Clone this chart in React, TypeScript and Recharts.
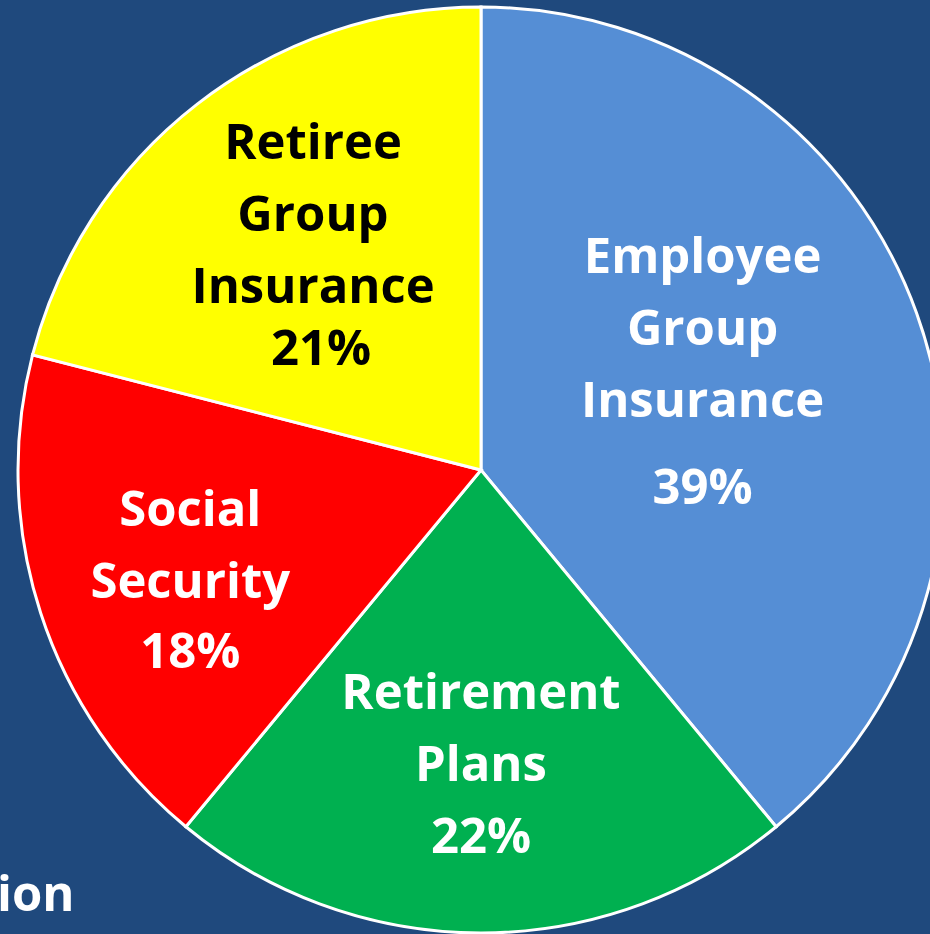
import { PieChart, Pie, Cell } from "recharts";

const categories = [
  "Employee Group Insurance",
  "Retirement Plans",
  "Social Security",
  "Retiree Group Insurance",
];
const shares = [39, 22, 18, 21];
const sliceColors = ["#558ED5", "#00B050", "#FF0000", "#FFFF00"];
const labelColors = ["#FFFFFF", "#FFFFFF", "#FFFFFF", "#000000"];

const data = categories.map((name, i) => ({ name, value: shares[i] }));

const RADIAN = Math.PI / 180;
const FONT = "'Open Sans', 'Liberation Sans', sans-serif";

// label placement tweaks per slice (radius as fraction of outer radius, angle nudge in degrees)
const labelRadius = [0.525, 0.63, 0.67, 0.61];
const angleNudge = [4.5, 0, 2.4, -1.3];
const percentGap = [87, 72, 70, 62];
const LINE = 72;

function SliceLabel(props: any) {
  const { cx, cy, midAngle, outerRadius, index } = props;
  const r = outerRadius * labelRadius[index];
  const a = (midAngle + angleNudge[index]) * RADIAN;
  const x = cx + r * Math.cos(a);
  const y = cy - r * Math.sin(a);
  const words = categories[index].split(" ");
  const offsets = words.map((_, i) => i * LINE);
  const pctOffset = offsets[offsets.length - 1] + percentGap[index];
  const mid = pctOffset / 2;
  return (
    <text
      x={x}
      y={y}
      fill={labelColors[index]}
      textAnchor="middle"
      dominantBaseline="central"
      fontFamily={FONT}
      fontWeight={700}
      fontSize={49}
    >
      {words.map((w, i) => (
        <tspan key={i} x={x} y={y - mid + offsets[i]}>
          {w}
        </tspan>
      ))}
      <tspan x={x + (index === 3 ? 8 : 0)} y={y - mid + pctOffset}>
        {shares[index]}%
      </tspan>
    </text>
  );
}

export default function App() {
  return (
    <div
      style={{
        position: "absolute",
        top: 0,
        left: 0,
        width: 930,
        height: 934,
        background: "#1F497D",
        overflow: "hidden",
      }}
    >
      <PieChart width={930} height={934} margin={{ top: 0, right: 0, bottom: 0, left: 0 }}>
        <Pie
          data={data}
          dataKey="value"
          nameKey="name"
          cx={481}
          cy={470}
          outerRadius={463}
          startAngle={90}
          endAngle={-270}
          stroke="#FFFFFF"
          strokeWidth={3}
          labelLine={false}
          label={SliceLabel}
          isAnimationActive={false}
        >
          {data.map((d, i) => (
            <Cell key={d.name} fill={sliceColors[i]} />
          ))}
        </Pie>
      </PieChart>
      <div
        style={{
          position: "absolute",
          left: -3,
          top: 860,
          color: "#FFFFFF",
          fontFamily: FONT,
          fontWeight: 700,
          fontSize: 49,
          lineHeight: "64px",
        }}
      >
        ion
      </div>
    </div>
  );
}
